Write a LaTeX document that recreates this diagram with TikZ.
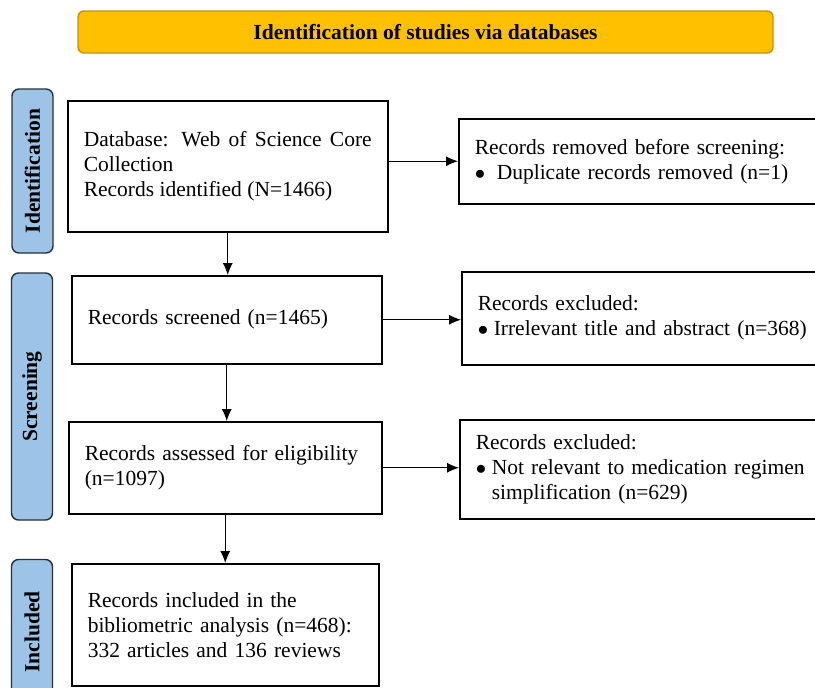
\documentclass[tikz,border=0pt]{standalone}
\usepackage{fontspec}
\setmainfont{Liberation Serif}
\usetikzlibrary{arrows.meta}

\definecolor{bannergold}{HTML}{FFC000}
\definecolor{bannerrim}{HTML}{C39400}
\definecolor{stageblue}{HTML}{9DC3E6}
\definecolor{stagerim}{HTML}{26313D}

\tikzset{
  flowbox/.style={draw=black, line width=1.5pt, anchor=north west, inner xsep=16pt,
    inner ysep=0pt, align=left, font=\fontsize{21.5}{25}\selectfont},
  stagebox/.style={draw=stagerim, fill=stageblue, line width=1.4pt, rounded corners=7pt,
    rotate=90, minimum height=41pt, font=\fontsize{21.5}{25}\selectfont\bfseries},
  flowarrow/.style={-{Latex[length=12pt,width=10pt]}, line width=1pt},
}

\begin{document}
\begin{tikzpicture}[x=1pt,y=-1pt]
    \useasboundingbox (0,0) rectangle (815,688);
    \clip (0,0) rectangle (815,688);

    % Banner
    \node[draw=bannerrim, fill=bannergold, line width=1.4pt, rounded corners=6pt,
        minimum width=695pt, minimum height=42pt, font=\fontsize{21.5}{25}\selectfont\bfseries]
        (title) at (425.5,32) {Identification of studies via databases};

    % Stages
    \node[stagebox, minimum width=164pt] (ident) at (32.5,171) {Identification};
    \node[stagebox, minimum width=247pt] (screenstage) at (32,396.5) {Screening};
    \node[stagebox, minimum width=145pt] (inclstage) at (32,632) {Included};

    % Main column
    \node[flowbox, text width=288pt, minimum height=131pt, align=justify] (db) at (67,100)
        {Database: Web of Science Core Collection\\Records identified (N=1466)};
    \node[flowbox, text width=278pt, minimum height=88pt] (screened) at (71,275)
        {Records screened (n=1465)};
    \node[flowbox, text width=281pt, minimum height=92pt] (eligible) at (68,421)
        {Records assessed for eligibility\\(n=1097)};
    \node[flowbox, text width=275pt, minimum height=122pt] (included) at (71,563)
        {Records included in the\\bibliometric analysis (n=468):\\332 articles and 136 reviews};

    % Side column
    \node[flowbox, text width=348pt, minimum height=85pt] (removed) at (458,118)
        {Records removed before screening:\\\makebox[22pt][l]{$\bullet$}Duplicate records removed (n=1)};
    \node[flowbox, text width=348pt, minimum height=93pt] (excltitle) at (461,271)
        {Records excluded:\\\makebox[16pt][l]{$\bullet$}Irrelevant title and abstract (n=368)};
    \node[flowbox, text width=348pt, minimum height=99pt] (excltext) at (459,419)
        {Records excluded:\\\makebox[16pt][l]{$\bullet$}Not relevant to medication regimen\\\hspace*{16pt}simplification (n=629)};

    % Arrows
    \draw[flowarrow] (db.south) -- (db.south |- screened.north);
    \draw[flowarrow] (screened.south) -- (screened.south |- eligible.north);
    \draw[flowarrow] (eligible.south) -- (eligible.south |- included.north);
    \draw[flowarrow] (db.east |- removed.west) -- (removed.west);
    \draw[flowarrow] (screened.east) -- (screened.east -| excltitle.west);
    \draw[flowarrow] (eligible.east) -- (eligible.east -| excltext.west);
\end{tikzpicture}
\end{document}
